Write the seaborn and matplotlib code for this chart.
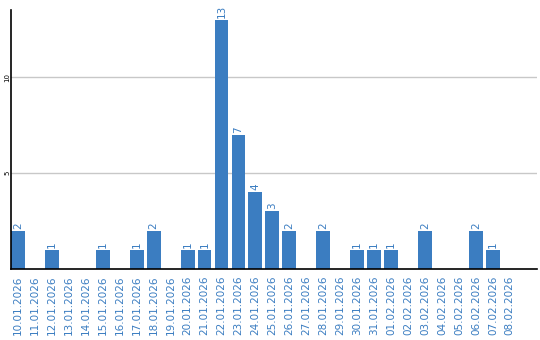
import matplotlib
matplotlib.use("Agg")
import matplotlib.pyplot as plt
import seaborn as sns
import pandas as pd

dates = ["10.01.2026", "11.01.2026", "12.01.2026", "13.01.2026", "14.01.2026",
         "15.01.2026", "16.01.2026", "17.01.2026", "18.01.2026", "19.01.2026",
         "20.01.2026", "21.01.2026", "22.01.2026", "23.01.2026", "24.01.2026",
         "25.01.2026", "26.01.2026", "27.01.2026", "28.01.2026", "29.01.2026",
         "30.01.2026", "31.01.2026", "01.02.2026", "02.02.2026", "03.02.2026",
         "04.02.2026", "05.02.2026", "06.02.2026", "07.02.2026", "08.02.2026"]
values = [2, 0, 1, 0, 0, 1, 0, 1, 2, 0, 1, 1, 13, 7, 4, 3, 2, 0, 2, 0,
          1, 1, 1, 0, 2, 0, 0, 2, 1, 0]
yticks = [5, 10]

BLUE = "#3b7dc1"
sns.set_theme(style="white")
plt.rcParams['font.family'] = ['DejaVu Sans']

df = pd.DataFrame({"date": dates, "value": values})
fig = plt.figure(figsize=(5.4, 3.4), dpi=100)
ax = fig.add_axes([11/540, 1 - 269/340, 526/540, 259/340])
sns.barplot(data=df, x="date", y="value", color=BLUE, saturation=1,
            width=0.82, ax=ax, zorder=3, linewidth=0, edgecolor="none")

ax.set_xlim(-0.41, 30.6)
ax.set_ylim(0, 13.5)
ax.set_yticks(yticks)
ax.set_yticklabels([str(t) for t in yticks], rotation=90, fontsize=5,
                   va="center", color="black")
ax.yaxis.grid(True, color="#c8c8c8", linewidth=1, zorder=0)
ax.xaxis.grid(False)
ax.tick_params(axis="y", length=0, pad=0.5)
ax.tick_params(axis="x", length=0, pad=5)
plt.setp(ax.get_xticklabels(), rotation=90, fontsize=7.5, color=BLUE)
ax.set_xlabel("")
ax.set_ylabel("")
for s in ["top", "right"]:
    ax.spines[s].set_visible(False)
for s in ["left", "bottom"]:
    ax.spines[s].set_color("black")
    ax.spines[s].set_linewidth(1.2)
    ax.spines[s].set_zorder(5)

for cont in ax.containers:
    labels = [str(v) if v > 0 else "" for v in values]
    ax.bar_label(cont, labels=labels, rotation=90, fontsize=7.5, color=BLUE,
                 padding=1.5)

fig.savefig("out.png", dpi=100)
